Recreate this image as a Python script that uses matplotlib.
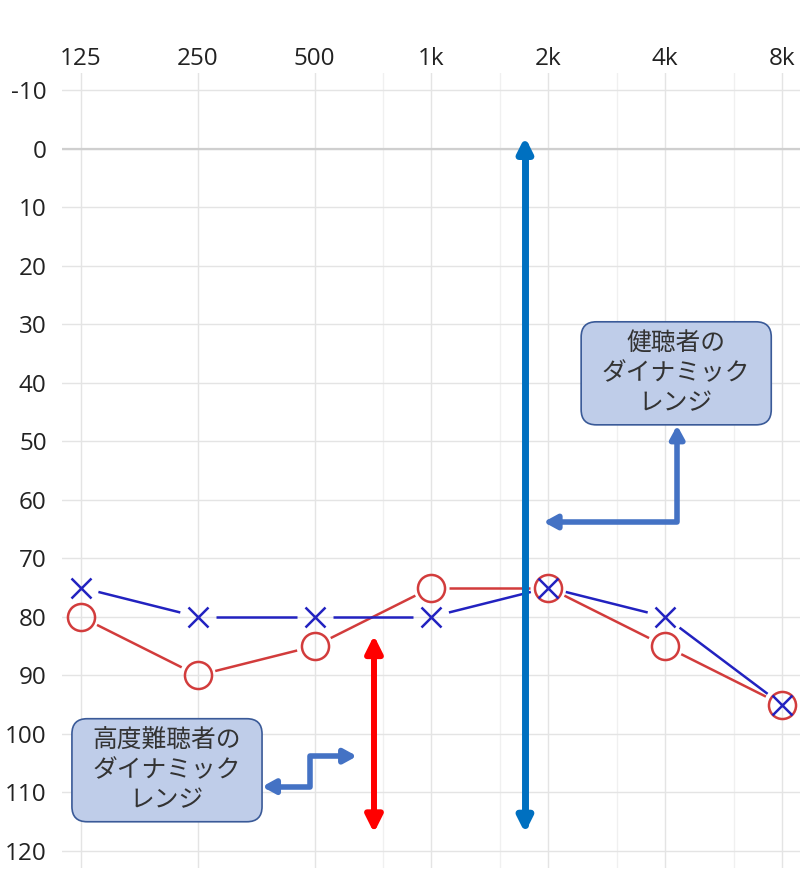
import matplotlib
matplotlib.use('Agg')
import matplotlib.pyplot as plt
import numpy as np
from matplotlib.patches import FancyArrowPatch, FancyBboxPatch
from matplotlib.path import Path

plt.rcParams['font.family'] = ['Open Sans', 'Noto Sans CJK JP', 'DejaVu Sans']
plt.rcParams['axes.unicode_minus'] = False

# audiogram values (dB HL) at each frequency
freq_labels = ['125', '250', '500', '1k', '2k', '4k', '8k']
circle_db = [80, 90, 85, 75, 75, 85, 95]   # right ear (O)
cross_db = [75, 80, 80, 80, 75, 80, 95]    # left ear (X)
db_ticks = list(range(-10, 121, 10))

normal_label = ['健聴者の', 'ダイナミック', 'レンジ']
severe_label = ['高度難聴者の', 'ダイナミック', 'レンジ']

x = np.arange(len(freq_labels))
half_octave = np.log2(1.5)  # 750, 1.5k, 3k, 6k gridlines

fig = plt.figure(figsize=(8, 8.76), dpi=100)
ax = fig.add_axes([62 / 800, 8 / 876, 738 / 800, 795 / 876])
ax.set_xlim(-0.162, 6.154)
ax.set_ylim(122.9, -12.9)

ax.xaxis.tick_top()
ax.set_xticks(x, freq_labels)
ax.set_xticks(x[2:6] + half_octave, minor=True)
ax.set_yticks(db_ticks)
ax.tick_params(which='both', length=0, labelsize=17.5, colors='#222222')
ax.tick_params(axis='x', pad=1.5)
ax.tick_params(axis='y', pad=11)
for s in ax.spines.values():
    s.set_visible(False)
ax.grid(which='major', color='#E4E4E4', lw=1)
ax.grid(which='minor', axis='x', color='#F0F0F0', lw=1)
ax.axhline(0, color='#CFCFCF', lw=1.6, zorder=1)
ax.set_axisbelow(True)


def gapped_line(vals, color, gap=18):
    # each segment stops short of the markers, as in the original
    pts = ax.transData.transform(np.column_stack([x, vals]))
    inv = ax.transData.inverted()
    for a, b in zip(pts[:-1], pts[1:]):
        d = (b - a) / np.hypot(*(b - a))
        seg = inv.transform([a + d * gap, b - d * gap])
        ax.plot(seg[:, 0], seg[:, 1], color=color, lw=1.8, zorder=3,
                solid_capstyle='butt')


gapped_line(circle_db, '#D23C3C')
gapped_line(cross_db, '#2222C0')
ax.plot(x, circle_db, 'o', ms=19.5, mfc='none', mec='#D23C3C', mew=1.8, zorder=5)
ax.plot(x, cross_db, 'x', ms=14, mec='#2222C0', mew=1.8, zorder=5)


def arrow(verts, color, lw, hl, hw):
    p = FancyArrowPatch(path=Path(verts),
                        arrowstyle=f'<|-|>,head_length={hl},head_width={hw}',
                        color=color, lw=lw, mutation_scale=1, zorder=6)
    ax.add_patch(p)


# dynamic range arrows
arrow([(3.80, -2.0), (3.80, 116.9)], '#0070C0', 5, 8.6, 4.3)
arrow([(2.508, 83.2), (2.508, 116.9)], '#FF0000', 4.3, 10, 5)
# elbow pointers to the callout boxes
arrow([(5.103, 47.3), (5.103, 63.8), (3.96, 63.8)], '#4472C4', 4, 7.5, 4.1)
arrow([(1.55, 109.0), (1.961, 109.0), (1.961, 103.8), (2.363, 103.8)],
      '#4472C4', 4, 7.5, 4.1)

# callout boxes
aspect = 116.83 / 5.85
for (x0, y0, w, h), (cx, cy), lines in [
        ((4.281, 29.6, 1.627, 17.6), (5.093, 33.2), normal_label),
        ((-0.077, 97.4, 1.627, 17.6), (0.736, 101.0), severe_label)]:
    ax.add_patch(FancyBboxPatch((x0, y0), w, h,
                                boxstyle='round,pad=0,rounding_size=0.13',
                                mutation_aspect=aspect, fc='#BFCDE9',
                                ec='#3A5A98', lw=1.2, zorder=7))
    for i, t in enumerate(lines):
        ax.text(cx, cy + i * 5.13, t, ha='center', va='center', fontsize=17.8,
                color='#333333', family=['Noto Sans CJK JP'], zorder=8)

fig.savefig('out.png', dpi=100)
